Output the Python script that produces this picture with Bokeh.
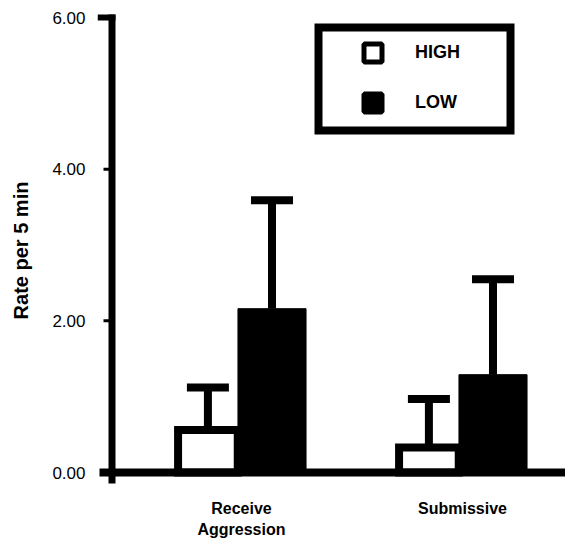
from bokeh.plotting import figure
from bokeh.models import (Range1d, FixedTicker, PrintfTickFormatter, Legend, LegendItem,
                          Whisker, TeeHead, ColumnDataSource)
from bokeh.embed import file_html
from bokeh.resources import INLINE

# ---------------- data ----------------
categories = ["Receive\nAggression", "Submissive"]
series = ["HIGH", "LOW"]
high_mean = [0.56, 0.33]
high_sem = [0.56, 0.64]
low_mean = [2.16, 1.29]
low_sem = [1.43, 1.26]
y_ticks = [0, 2, 4, 6]

# ---------------- geometry (page pixels) ----------------
W, H = 565, 541
BL, BR, BT, BB = 97, 0, 10, 51
FRAME_TOP, FRAME_BOT = BT, H - BB
Y0_PX, Y6_PX = 472.0, 17.0
PX_PER_Y = (Y0_PX - Y6_PX) / 6.0
G1_PX, PX_PER_X = 241.0, 221.0


def xd(px):
    return 1 + (px - G1_PX) / PX_PER_X


def yd(py):
    return (Y0_PX - py) / PX_PER_Y


x_start, x_end = xd(BL), xd(W - BR)
y_start, y_end = yd(FRAME_BOT), yd(FRAME_TOP)

p = figure(width=W, height=H, title=None, output_backend="svg", toolbar_location=None,
           x_range=Range1d(x_start, x_end), y_range=Range1d(y_start, y_end),
           min_border_left=BL, min_border_right=BR, min_border_top=BT, min_border_bottom=BB)
p.outline_line_color = None
p.background_fill_color = "white"
p.border_fill_color = "white"
p.xgrid.visible = False
p.ygrid.visible = False

FONT = "Liberation Sans"
HIGH_OFF, HIGH_W = -0.152, 0.27
LOW_OFF, LOW_W = 0.138, 0.308
xpos = [i + 1 for i in range(len(categories))]
hx = [x + HIGH_OFF for x in xpos]
lx = [x + LOW_OFF for x in xpos]

src_h = ColumnDataSource(dict(x=hx, top=high_mean, upper=[m + s for m, s in zip(high_mean, high_sem)]))
src_l = ColumnDataSource(dict(x=lx, top=low_mean, upper=[m + s for m, s in zip(low_mean, low_sem)]))

p.vbar(x="x", top="top", bottom=0, width=HIGH_W, source=src_h, fill_color="white",
       line_color="black", line_width=8, line_join="miter")
p.vbar(x="x", top="top", bottom=0, width=LOW_W, source=src_l, fill_color="black",
       line_color="black", line_width=1, line_join="miter")

for src in (src_h, src_l):
    w = Whisker(source=src, base="x", lower="top", upper="upper", dimension="height",
                line_color="black", line_width=8, lower_head=None,
                upper_head=TeeHead(size=42, line_width=8, line_color="black"), level="glyph")
    p.add_layout(w)

# axis lines drawn as heavy strokes
ax_x = xd(111.5)
p.segment(x0=[ax_x], y0=[yd(483)], x1=[ax_x], y1=[yd(14)], line_color="black", line_width=7)
p.segment(x0=[xd(99)], y0=[y_ticks[0]], x1=[x_end], y1=[y_ticks[0]], line_color="black", line_width=8)
p.segment(x0=[xd(97)], y0=[y_ticks[-1]], x1=[xd(115)], y1=[y_ticks[-1]], line_color="black", line_width=6)
mid = y_ticks[1:-1]
p.segment(x0=[xd(103)] * len(mid), y0=mid, x1=[ax_x] * len(mid), y1=mid, line_color="black", line_width=3)

# y axis labels
ya = p.yaxis[0]
ya.ticker = FixedTicker(ticks=y_ticks)
ya.formatter = PrintfTickFormatter(format="%.2f")
ya.axis_line_color = None
ya.major_tick_line_color = None
ya.minor_tick_line_color = None
ya.major_tick_in = 0
ya.major_tick_out = 0
ya.major_label_standoff = 12
ya.major_label_text_font = FONT
ya.major_label_text_font_size = "17px"
ya.major_label_text_color = "black"
ya.axis_label = "Rate per 5 min"
ya.axis_label_text_font = FONT
ya.axis_label_text_font_size = "20px"
ya.axis_label_text_font_style = "bold"
ya.axis_label_text_color = "black"
ya.axis_label_standoff = 17

xa = p.xaxis[0]
xa.ticker = FixedTicker(ticks=xpos)
xa.major_label_overrides = {x: c for x, c in zip(xpos, categories)}
xa.axis_line_color = None
xa.major_tick_line_color = None
xa.minor_tick_line_color = None
xa.major_tick_in = 0
xa.major_tick_out = 0
xa.major_label_standoff = 9
xa.major_label_text_font = FONT
xa.major_label_text_font_size = "16px"
xa.major_label_text_font_style = "bold"
xa.major_label_text_color = "black"
xa.major_label_text_line_height = 1.25

# legend frame
p.quad(left=[xd(318)], right=[xd(510)], top=[yd(27)], bottom=[yd(130)],
       fill_color="white", line_color="black", line_width=8, line_join="miter")

nan = float("nan")
rh = p.scatter(x=[nan], y=[nan], marker="square", size=18, fill_color="white", line_color="black", line_width=5)
rl = p.scatter(x=[nan], y=[nan], marker="square", size=18, fill_color="black", line_color="black", line_width=5)
legend = Legend(items=[LegendItem(label=series[0], renderers=[rh]),
                       LegendItem(label=series[1], renderers=[rl])],
                location=(350 - BL, FRAME_BOT - 125), glyph_width=45, glyph_height=45,
                spacing=5, padding=0, margin=0, label_standoff=20,
                border_line_color=None, background_fill_alpha=0,
                label_text_font=FONT, label_text_font_size="18px", label_text_font_style="bold",
                label_text_color="black")
p.add_layout(legend)

open("out.html", "w").write(file_html(p, INLINE))
